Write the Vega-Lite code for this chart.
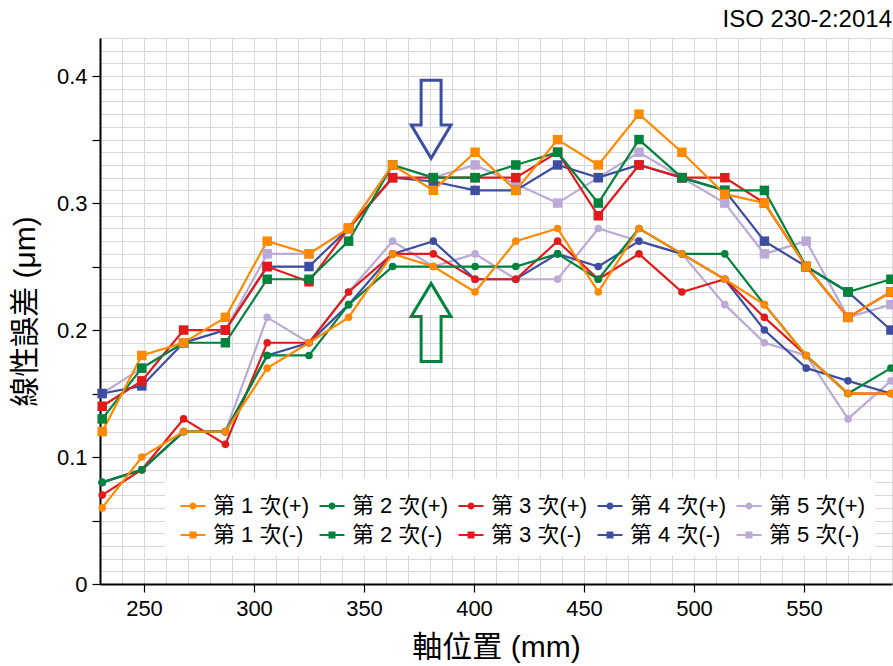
{
  "$schema": "https://vega.github.io/schema/vega-lite/v6.json",
  "autosize": {"type": "none"},
  "padding": {"left": 100, "top": 38, "right": 1, "bottom": 82},
  "width": 792,
  "height": 546,
  "background": "white",
  "title": {"text": "ISO 230-2:2014", "anchor": "end", "frame": "group", "offset": 6, "dy": 11, "fontSize": 24, "font": "Liberation Sans", "fontWeight": "normal", "color": "black"},
  "config": {"view": {"stroke": null}},
  "data": {"values": [
    {"series":"第 5 次(-)","dir":"-","pos":231,"err":0.15},{"series":"第 5 次(-)","dir":"-","pos":249,"err":0.17},{"series":"第 5 次(-)","dir":"-","pos":268,"err":0.19},{"series":"第 5 次(-)","dir":"-","pos":287,"err":0.20},{"series":"第 5 次(-)","dir":"-","pos":306,"err":0.26},{"series":"第 5 次(-)","dir":"-","pos":325,"err":0.26},{"series":"第 5 次(-)","dir":"-","pos":343,"err":0.28},{"series":"第 5 次(-)","dir":"-","pos":363,"err":0.33},{"series":"第 5 次(-)","dir":"-","pos":381.5,"err":0.32},{"series":"第 5 次(-)","dir":"-","pos":400.5,"err":0.33},{"series":"第 5 次(-)","dir":"-","pos":419,"err":0.315},{"series":"第 5 次(-)","dir":"-","pos":438,"err":0.30},{"series":"第 5 次(-)","dir":"-","pos":456.5,"err":0.32},{"series":"第 5 次(-)","dir":"-","pos":475,"err":0.34},{"series":"第 5 次(-)","dir":"-","pos":494.5,"err":0.32},{"series":"第 5 次(-)","dir":"-","pos":514,"err":0.30},{"series":"第 5 次(-)","dir":"-","pos":532,"err":0.26},{"series":"第 5 次(-)","dir":"-","pos":551,"err":0.27},{"series":"第 5 次(-)","dir":"-","pos":570,"err":0.21},{"series":"第 5 次(-)","dir":"-","pos":589.5,"err":0.22},
    {"series":"第 5 次(+)","dir":"+","pos":231,"err":0.08},{"series":"第 5 次(+)","dir":"+","pos":249,"err":0.09},{"series":"第 5 次(+)","dir":"+","pos":268,"err":0.12},{"series":"第 5 次(+)","dir":"+","pos":287,"err":0.12},{"series":"第 5 次(+)","dir":"+","pos":306,"err":0.21},{"series":"第 5 次(+)","dir":"+","pos":325,"err":0.19},{"series":"第 5 次(+)","dir":"+","pos":343,"err":0.23},{"series":"第 5 次(+)","dir":"+","pos":363,"err":0.27},{"series":"第 5 次(+)","dir":"+","pos":381.5,"err":0.25},{"series":"第 5 次(+)","dir":"+","pos":400.5,"err":0.26},{"series":"第 5 次(+)","dir":"+","pos":419,"err":0.24},{"series":"第 5 次(+)","dir":"+","pos":438,"err":0.24},{"series":"第 5 次(+)","dir":"+","pos":456.5,"err":0.28},{"series":"第 5 次(+)","dir":"+","pos":475,"err":0.27},{"series":"第 5 次(+)","dir":"+","pos":494.5,"err":0.26},{"series":"第 5 次(+)","dir":"+","pos":514,"err":0.22},{"series":"第 5 次(+)","dir":"+","pos":532,"err":0.19},{"series":"第 5 次(+)","dir":"+","pos":551,"err":0.18},{"series":"第 5 次(+)","dir":"+","pos":570,"err":0.13},{"series":"第 5 次(+)","dir":"+","pos":589.5,"err":0.16},
    {"series":"第 4 次(-)","dir":"-","pos":231,"err":0.15},{"series":"第 4 次(-)","dir":"-","pos":249,"err":0.156},{"series":"第 4 次(-)","dir":"-","pos":268,"err":0.19},{"series":"第 4 次(-)","dir":"-","pos":287,"err":0.20},{"series":"第 4 次(-)","dir":"-","pos":306,"err":0.25},{"series":"第 4 次(-)","dir":"-","pos":325,"err":0.25},{"series":"第 4 次(-)","dir":"-","pos":343,"err":0.28},{"series":"第 4 次(-)","dir":"-","pos":363,"err":0.32},{"series":"第 4 次(-)","dir":"-","pos":381.5,"err":0.317},{"series":"第 4 次(-)","dir":"-","pos":400.5,"err":0.31},{"series":"第 4 次(-)","dir":"-","pos":419,"err":0.31},{"series":"第 4 次(-)","dir":"-","pos":438,"err":0.33},{"series":"第 4 次(-)","dir":"-","pos":456.5,"err":0.32},{"series":"第 4 次(-)","dir":"-","pos":475,"err":0.33},{"series":"第 4 次(-)","dir":"-","pos":494.5,"err":0.32},{"series":"第 4 次(-)","dir":"-","pos":514,"err":0.31},{"series":"第 4 次(-)","dir":"-","pos":532,"err":0.27},{"series":"第 4 次(-)","dir":"-","pos":551,"err":0.25},{"series":"第 4 次(-)","dir":"-","pos":570,"err":0.23},{"series":"第 4 次(-)","dir":"-","pos":589.5,"err":0.20},
    {"series":"第 4 次(+)","dir":"+","pos":231,"err":0.08},{"series":"第 4 次(+)","dir":"+","pos":249,"err":0.09},{"series":"第 4 次(+)","dir":"+","pos":268,"err":0.12},{"series":"第 4 次(+)","dir":"+","pos":287,"err":0.12},{"series":"第 4 次(+)","dir":"+","pos":306,"err":0.18},{"series":"第 4 次(+)","dir":"+","pos":325,"err":0.19},{"series":"第 4 次(+)","dir":"+","pos":343,"err":0.22},{"series":"第 4 次(+)","dir":"+","pos":363,"err":0.26},{"series":"第 4 次(+)","dir":"+","pos":381.5,"err":0.27},{"series":"第 4 次(+)","dir":"+","pos":400.5,"err":0.24},{"series":"第 4 次(+)","dir":"+","pos":419,"err":0.24},{"series":"第 4 次(+)","dir":"+","pos":438,"err":0.26},{"series":"第 4 次(+)","dir":"+","pos":456.5,"err":0.25},{"series":"第 4 次(+)","dir":"+","pos":475,"err":0.27},{"series":"第 4 次(+)","dir":"+","pos":494.5,"err":0.26},{"series":"第 4 次(+)","dir":"+","pos":514,"err":0.24},{"series":"第 4 次(+)","dir":"+","pos":532,"err":0.20},{"series":"第 4 次(+)","dir":"+","pos":551,"err":0.17},{"series":"第 4 次(+)","dir":"+","pos":570,"err":0.16},{"series":"第 4 次(+)","dir":"+","pos":589.5,"err":0.15},
    {"series":"第 3 次(-)","dir":"-","pos":231,"err":0.14},{"series":"第 3 次(-)","dir":"-","pos":249,"err":0.16},{"series":"第 3 次(-)","dir":"-","pos":268,"err":0.20},{"series":"第 3 次(-)","dir":"-","pos":287,"err":0.20},{"series":"第 3 次(-)","dir":"-","pos":306,"err":0.25},{"series":"第 3 次(-)","dir":"-","pos":325,"err":0.238},{"series":"第 3 次(-)","dir":"-","pos":343,"err":0.28},{"series":"第 3 次(-)","dir":"-","pos":363,"err":0.32},{"series":"第 3 次(-)","dir":"-","pos":381.5,"err":0.32},{"series":"第 3 次(-)","dir":"-","pos":400.5,"err":0.32},{"series":"第 3 次(-)","dir":"-","pos":419,"err":0.32},{"series":"第 3 次(-)","dir":"-","pos":438,"err":0.34},{"series":"第 3 次(-)","dir":"-","pos":456.5,"err":0.29},{"series":"第 3 次(-)","dir":"-","pos":475,"err":0.33},{"series":"第 3 次(-)","dir":"-","pos":494.5,"err":0.32},{"series":"第 3 次(-)","dir":"-","pos":514,"err":0.32},{"series":"第 3 次(-)","dir":"-","pos":532,"err":0.30},{"series":"第 3 次(-)","dir":"-","pos":551,"err":0.25},{"series":"第 3 次(-)","dir":"-","pos":570,"err":0.21},{"series":"第 3 次(-)","dir":"-","pos":589.5,"err":0.23},
    {"series":"第 3 次(+)","dir":"+","pos":231,"err":0.07},{"series":"第 3 次(+)","dir":"+","pos":249,"err":0.09},{"series":"第 3 次(+)","dir":"+","pos":268,"err":0.13},{"series":"第 3 次(+)","dir":"+","pos":287,"err":0.11},{"series":"第 3 次(+)","dir":"+","pos":306,"err":0.19},{"series":"第 3 次(+)","dir":"+","pos":325,"err":0.19},{"series":"第 3 次(+)","dir":"+","pos":343,"err":0.23},{"series":"第 3 次(+)","dir":"+","pos":363,"err":0.26},{"series":"第 3 次(+)","dir":"+","pos":381.5,"err":0.26},{"series":"第 3 次(+)","dir":"+","pos":400.5,"err":0.24},{"series":"第 3 次(+)","dir":"+","pos":419,"err":0.24},{"series":"第 3 次(+)","dir":"+","pos":438,"err":0.27},{"series":"第 3 次(+)","dir":"+","pos":456.5,"err":0.24},{"series":"第 3 次(+)","dir":"+","pos":475,"err":0.26},{"series":"第 3 次(+)","dir":"+","pos":494.5,"err":0.23},{"series":"第 3 次(+)","dir":"+","pos":514,"err":0.24},{"series":"第 3 次(+)","dir":"+","pos":532,"err":0.21},{"series":"第 3 次(+)","dir":"+","pos":551,"err":0.18},{"series":"第 3 次(+)","dir":"+","pos":570,"err":0.15},{"series":"第 3 次(+)","dir":"+","pos":589.5,"err":0.15},
    {"series":"第 2 次(-)","dir":"-","pos":231,"err":0.13},{"series":"第 2 次(-)","dir":"-","pos":249,"err":0.17},{"series":"第 2 次(-)","dir":"-","pos":268,"err":0.19},{"series":"第 2 次(-)","dir":"-","pos":287,"err":0.19},{"series":"第 2 次(-)","dir":"-","pos":306,"err":0.24},{"series":"第 2 次(-)","dir":"-","pos":325,"err":0.24},{"series":"第 2 次(-)","dir":"-","pos":343,"err":0.27},{"series":"第 2 次(-)","dir":"-","pos":363,"err":0.33},{"series":"第 2 次(-)","dir":"-","pos":381.5,"err":0.32},{"series":"第 2 次(-)","dir":"-","pos":400.5,"err":0.32},{"series":"第 2 次(-)","dir":"-","pos":419,"err":0.33},{"series":"第 2 次(-)","dir":"-","pos":438,"err":0.34},{"series":"第 2 次(-)","dir":"-","pos":456.5,"err":0.30},{"series":"第 2 次(-)","dir":"-","pos":475,"err":0.35},{"series":"第 2 次(-)","dir":"-","pos":494.5,"err":0.32},{"series":"第 2 次(-)","dir":"-","pos":514,"err":0.31},{"series":"第 2 次(-)","dir":"-","pos":532,"err":0.31},{"series":"第 2 次(-)","dir":"-","pos":551,"err":0.25},{"series":"第 2 次(-)","dir":"-","pos":570,"err":0.23},{"series":"第 2 次(-)","dir":"-","pos":589.5,"err":0.24},
    {"series":"第 2 次(+)","dir":"+","pos":231,"err":0.08},{"series":"第 2 次(+)","dir":"+","pos":249,"err":0.09},{"series":"第 2 次(+)","dir":"+","pos":268,"err":0.12},{"series":"第 2 次(+)","dir":"+","pos":287,"err":0.12},{"series":"第 2 次(+)","dir":"+","pos":306,"err":0.18},{"series":"第 2 次(+)","dir":"+","pos":325,"err":0.18},{"series":"第 2 次(+)","dir":"+","pos":343,"err":0.22},{"series":"第 2 次(+)","dir":"+","pos":363,"err":0.25},{"series":"第 2 次(+)","dir":"+","pos":381.5,"err":0.25},{"series":"第 2 次(+)","dir":"+","pos":400.5,"err":0.25},{"series":"第 2 次(+)","dir":"+","pos":419,"err":0.25},{"series":"第 2 次(+)","dir":"+","pos":438,"err":0.26},{"series":"第 2 次(+)","dir":"+","pos":456.5,"err":0.24},{"series":"第 2 次(+)","dir":"+","pos":475,"err":0.28},{"series":"第 2 次(+)","dir":"+","pos":494.5,"err":0.26},{"series":"第 2 次(+)","dir":"+","pos":514,"err":0.26},{"series":"第 2 次(+)","dir":"+","pos":532,"err":0.22},{"series":"第 2 次(+)","dir":"+","pos":551,"err":0.18},{"series":"第 2 次(+)","dir":"+","pos":570,"err":0.15},{"series":"第 2 次(+)","dir":"+","pos":589.5,"err":0.17},
    {"series":"第 1 次(-)","dir":"-","pos":231,"err":0.12},{"series":"第 1 次(-)","dir":"-","pos":249,"err":0.18},{"series":"第 1 次(-)","dir":"-","pos":268,"err":0.19},{"series":"第 1 次(-)","dir":"-","pos":287,"err":0.21},{"series":"第 1 次(-)","dir":"-","pos":306,"err":0.27},{"series":"第 1 次(-)","dir":"-","pos":325,"err":0.26},{"series":"第 1 次(-)","dir":"-","pos":343,"err":0.28},{"series":"第 1 次(-)","dir":"-","pos":363,"err":0.33},{"series":"第 1 次(-)","dir":"-","pos":381.5,"err":0.31},{"series":"第 1 次(-)","dir":"-","pos":400.5,"err":0.34},{"series":"第 1 次(-)","dir":"-","pos":419,"err":0.31},{"series":"第 1 次(-)","dir":"-","pos":438,"err":0.35},{"series":"第 1 次(-)","dir":"-","pos":456.5,"err":0.33},{"series":"第 1 次(-)","dir":"-","pos":475,"err":0.37},{"series":"第 1 次(-)","dir":"-","pos":494.5,"err":0.34},{"series":"第 1 次(-)","dir":"-","pos":514,"err":0.307},{"series":"第 1 次(-)","dir":"-","pos":532,"err":0.30},{"series":"第 1 次(-)","dir":"-","pos":551,"err":0.25},{"series":"第 1 次(-)","dir":"-","pos":570,"err":0.21},{"series":"第 1 次(-)","dir":"-","pos":589.5,"err":0.23},
    {"series":"第 1 次(+)","dir":"+","pos":231,"err":0.06},{"series":"第 1 次(+)","dir":"+","pos":249,"err":0.10},{"series":"第 1 次(+)","dir":"+","pos":268,"err":0.12},{"series":"第 1 次(+)","dir":"+","pos":287,"err":0.12},{"series":"第 1 次(+)","dir":"+","pos":306,"err":0.17},{"series":"第 1 次(+)","dir":"+","pos":325,"err":0.19},{"series":"第 1 次(+)","dir":"+","pos":343,"err":0.21},{"series":"第 1 次(+)","dir":"+","pos":363,"err":0.26},{"series":"第 1 次(+)","dir":"+","pos":381.5,"err":0.25},{"series":"第 1 次(+)","dir":"+","pos":400.5,"err":0.23},{"series":"第 1 次(+)","dir":"+","pos":419,"err":0.27},{"series":"第 1 次(+)","dir":"+","pos":438,"err":0.28},{"series":"第 1 次(+)","dir":"+","pos":456.5,"err":0.23},{"series":"第 1 次(+)","dir":"+","pos":475,"err":0.28},{"series":"第 1 次(+)","dir":"+","pos":494.5,"err":0.26},{"series":"第 1 次(+)","dir":"+","pos":514,"err":0.24},{"series":"第 1 次(+)","dir":"+","pos":532,"err":0.22},{"series":"第 1 次(+)","dir":"+","pos":551,"err":0.18},{"series":"第 1 次(+)","dir":"+","pos":570,"err":0.15},{"series":"第 1 次(+)","dir":"+","pos":589.5,"err":0.15}
  ]},
  "encoding": {
    "x": {"field": "pos", "type": "quantitative",
      "scale": {"domain": [230, 590], "nice": false, "zero": false},
      "axis": {
        "values": [230,240,250,260,270,280,290,300,310,320,330,340,350,360,370,380,390,400,410,420,430,440,450,460,470,480,490,500,510,520,530,540,550,560,570,580,590],
        "grid": true, "gridColor": "#d7d7d7", "gridWidth": 1,
        "domain": true, "domainColor": "black", "domainWidth": 2,
        "ticks": true, "tickColor": "black", "tickSize": 8, "tickWidth": 1.2,
        "tickOpacity": {"condition": {"test": "datum.value % 50 === 0", "value": 1}, "value": 0},
        "labelExpr": "datum.value % 50 === 0 ? datum.label : ''",
        "labelFont": "Liberation Sans", "labelFontSize": 22, "labelColor": "black", "labelPadding": 6,
        "labelOverlap": false, "labelFlush": false, "labelBound": false,
        "title": "軸位置 (mm)", "titleFont": "Liberation Sans, Noto Sans CJK TC", "titleFontSize": 30,
        "titleFontWeight": "normal", "titleColor": "black", "titleBaseline": "alphabetic", "titleY": 72
      }
    },
    "y": {"field": "err", "type": "quantitative",
      "scale": {"domain": [0, 0.43], "nice": false, "zero": true},
      "axis": {
        "values": [0,0.01,0.02,0.03,0.04,0.05,0.06,0.07,0.08,0.09,0.1,0.11,0.12,0.13,0.14,0.15,0.16,0.17,0.18,0.19,0.2,0.21,0.22,0.23,0.24,0.25,0.26,0.27,0.28,0.29,0.3,0.31,0.32,0.33,0.34,0.35,0.36,0.37,0.38,0.39,0.4,0.41,0.42,0.43],
        "grid": true, "gridColor": "#d7d7d7", "gridWidth": 1,
        "domain": true, "domainColor": "black", "domainWidth": 2,
        "ticks": true, "tickColor": "black", "tickSize": 8, "tickWidth": 1.2,
        "tickOpacity": {"condition": {"test": "abs(datum.value*20 - round(datum.value*20)) < 0.000001", "value": 1}, "value": 0},
        "format": "~g",
        "labelExpr": "abs(datum.value*10 - round(datum.value*10)) < 0.000001 ? datum.label : ''",
        "labelFont": "Liberation Sans", "labelFontSize": 22, "labelColor": "black", "labelPadding": 5,
        "labelOverlap": false, "labelFlush": false, "labelBound": false,
        "title": "線性誤差 (μm)", "titleFont": "Liberation Sans, Noto Sans CJK TC", "titleFontSize": 30,
        "titleFontWeight": "normal", "titleColor": "black", "titleBaseline": "alphabetic",
        "titleAngle": 270, "titleAlign": "center", "titleX": -66, "titleY": 273
      }
    }
  },
  "layer": [
    {
      "mark": {"type": "line", "strokeWidth": 2.2},
      "encoding": {
        "color": {"field": "series", "type": "nominal",
          "scale": {
            "domain": ["第 1 次(+)", "第 2 次(+)", "第 3 次(+)", "第 4 次(+)", "第 5 次(+)", "第 1 次(-)", "第 2 次(-)", "第 3 次(-)", "第 4 次(-)", "第 5 次(-)"],
            "range": ["#ff8a00", "#00833c", "#e31a1c", "#3d4ea0", "#bcaad6", "#ff8a00", "#00833c", "#e31a1c", "#3d4ea0", "#bcaad6"]
          },
          "legend": {
            "title": null, "orient": "none", "legendX": 65, "legendY": 440,
            "direction": "horizontal", "columns": 5,
            "fillColor": "white", "padding": 10, "columnPadding": 5, "rowPadding": 0,
            "symbolSize": 1296, "symbolStrokeWidth": 0,
            "labelFont": "Liberation Sans, Noto Sans CJK TC", "labelFontSize": 22, "labelColor": "black",
            "labelOffset": 2, "labelLimit": 0,
            "encode": {"symbols": {"update": {
              "shape": {"signal": "indexof(datum.value, '(+)') >= 0 ? 'M-0.694,-0.056L0.694,-0.056L0.694,0.056L-0.694,0.056ZM-0.194,0A0.194,0.194,0,1,1,0.194,0A0.194,0.194,0,1,1,-0.194,0Z' : 'M-0.694,-0.056L0.694,-0.056L0.694,0.056L-0.694,0.056ZM-0.194,-0.194L0.194,-0.194L0.194,0.194L-0.194,0.194Z'"},
              "fill": {"scale": "color", "field": "value"},
              "stroke": {"value": "transparent"},
              "strokeWidth": {"value": 0},
              "opacity": {"value": 1},
              "fillOpacity": {"value": 1}
            }}}
          }
        }
      }
    },
    {
      "transform": [{"filter": "datum.dir === '+'"}],
      "mark": {"type": "point", "shape": "circle", "filled": true, "size": 58, "opacity": 1, "strokeWidth": 0},
      "encoding": {"color": {"field": "series", "type": "nominal"}}
    },
    {
      "transform": [{"filter": "datum.dir === '-'"}],
      "mark": {"type": "point", "shape": "square", "filled": true, "size": 90, "opacity": 1, "strokeWidth": 0},
      "encoding": {"color": {"field": "series", "type": "nominal"}}
    },
    {
      "data": {"values": [{"pos": 380.5, "err": 0.366}]},
      "mark": {"type": "point", "shape": "M-0.256,-1L0.256,-1L0.256,0.15L0.51,0.15L0,1L-0.51,0.15L-0.256,0.15Z", "size": 6084, "filled": false, "stroke": "#3d4ea0", "strokeWidth": 3, "opacity": 1}
    },
    {
      "data": {"values": [{"pos": 380.5, "err": 0.206}]},
      "mark": {"type": "point", "shape": "M-0.256,1L0.256,1L0.256,-0.15L0.51,-0.15L0,-1L-0.51,-0.15L-0.256,-0.15Z", "size": 6084, "filled": false, "stroke": "#00833c", "strokeWidth": 3, "opacity": 1}
    }
  ]
}
